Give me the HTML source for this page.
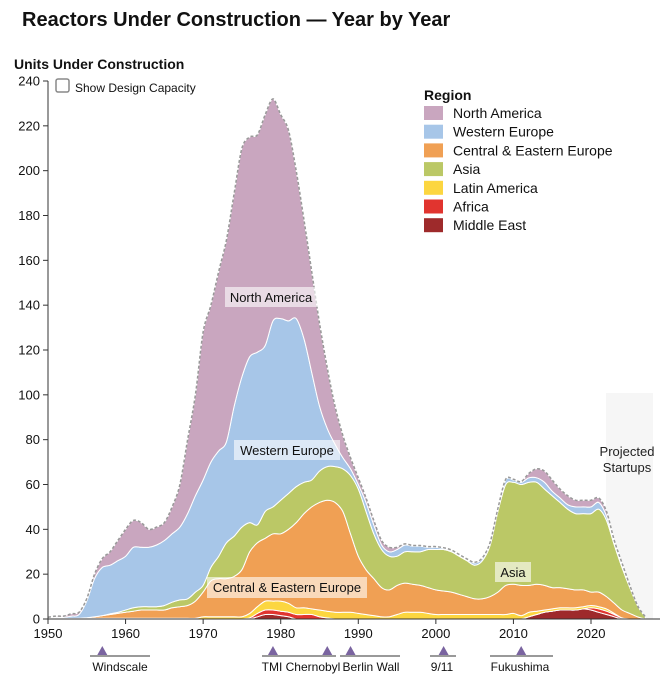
<!DOCTYPE html>
<html><head><meta charset="utf-8"><style>
body{margin:0;background:#fff;font-family:"Liberation Sans",Arial,sans-serif;}
svg{display:block}
</style></head><body>
<svg id="chart" width="667" height="681" viewBox="0 0 667 681" xmlns="http://www.w3.org/2000/svg" font-family="Liberation Sans, Arial, sans-serif">
<text x="22" y="26" font-size="20" font-weight="bold" fill="#111">Reactors Under Construction — Year by Year</text>
<text x="14" y="69" font-size="14" font-weight="bold" fill="#111">Units Under Construction</text>
<rect x="56" y="79" width="13" height="13" rx="2" fill="#fff" stroke="#888" stroke-width="1.5"/>
<text x="75" y="92" font-size="12" fill="#111">Show Design Capacity</text>
<rect x="606" y="393" width="47" height="226" fill="#f6f6f6"/>
<text x="627" y="456" font-size="13" fill="#222" text-anchor="middle">Projected</text>
<text x="627" y="472" font-size="13" fill="#222" text-anchor="middle">Startups</text>
<g id="areas"></g>
<g id="axes"></g>
<g id="labels">
<rect x="225" y="287" width="93" height="20" fill="#fff" opacity="0.6"/>
<text x="271" y="302" font-size="13" fill="#111" text-anchor="middle">North America</text>
<rect x="234" y="440" width="106" height="20" fill="#fff" opacity="0.6"/>
<text x="287" y="455" font-size="13" fill="#111" text-anchor="middle">Western Europe</text>
<rect x="207" y="577" width="160" height="21" fill="#fff" opacity="0.6"/>
<text x="287" y="592" font-size="13" fill="#111" text-anchor="middle">Central &amp; Eastern Europe</text>
<rect x="495" y="562" width="36" height="20" fill="#fff" opacity="0.6"/>
<text x="513" y="577" font-size="13" fill="#111" text-anchor="middle">Asia</text>
</g>
<g id="legend"><text x="424" y="100" font-size="14" font-weight="bold" fill="#111">Region</text></g>
<g id="events"></g>
</svg>
<script>
const years = [];
for (let y = 1950; y <= 2027; y++) years.push(y);
const middleEast = [0,0,0,0,0,0,0,0,0,0,0,0,0,0,0,0,0,0,0,0,0,0,0,0,0,0,0,1,2,2,1.5,1,0,0,0,0,0,0,0,0,0,0,0,0,0,0,0,0,0,0,0,0,0,0,0,0,0,0,0,0,0,0,1,2,3,3.5,4,4,4,4.5,4,3,2,1,0,0,0,0];
const africa = [0,0,0,0,0,0,0,0,0,0,0,0,0,0,0,0,0,0,0,0,0,0,0,0,0,0,0.5,1.5,2,2,2,2,2,2,2,1,0.5,0,0,0,0,0,0,0,0,0,0,0,0,0,0,0,0,0,0,0,0,0,0,0,0,0,0,0,0,0,0,0,0,0,1,1.5,1.5,1,0.5,0,0,0];
const latinAmerica = [0.3,0.3,0.3,0.3,0.3,0.3,0.3,0.3,0.3,0.3,0.3,0.3,0.3,0.3,0.3,0.3,0.3,0.3,0.3,0.3,1,1,1,1,1,1,2,3,4,4,4.5,4,3,3,2.5,3,3,3,3,3,2.5,2,1.5,1,1,2,3,3,3,2.5,2,2,2,2,2,2,2,2,2,2,2.5,1.5,2,1.5,1,1,1,1,1,1,1,1,1,0.5,0,0,0,0];
const centralEasternEurope = [0,0,0,0,0,0.3,0.7,1.2,1.7,2.2,2.7,3.2,3.7,3.7,3.7,3.7,4.7,5.2,5.7,7.7,11,16,17,17,18,21,27.5,28.5,28,30,30,33,38,42,45.5,48,49.5,49,45,35,25.5,20,16.5,13,12,13,13,12.5,12,11.5,11,10.5,10,9,8,7,7,8,10,13,13,13.5,12,12,11,9.5,9,8.5,8,7.5,6,6.5,5.5,4.5,3.5,2.5,1,0];
const asia = [0,0,0,0,0,0,0,0,0.3,0.5,1,1.5,1.5,1.5,1.5,2,2.5,3,3,4,3,6,10,16,18,19,13,8,12,12,15,16,16,14,12,14,15,16,19,26,30,26,20,17,15,13,14,14.5,15,17,18,18.5,18,17,16,15,17,23,36,45,45.5,45,46,45.5,43,41,38,35.5,34,34,35,37,34,26,19,11.5,5,1];
const westernEurope = [0.3,0.5,0.5,1,1.7,7.5,17,21.5,21.7,23,24,27,26.5,26.5,27.5,29,30.5,32.5,38,43,47,47,47,45,58,67,74,77,74,83,81,77,75,64,48,29,17,10,5,3,2,4,4,2,2,3,3,2.5,2.5,1,1,0.5,0.5,0.5,0.5,1,1,1,1,2,1,1,2,2,3,2,2,2,3,3,3,3,2,1,1,0.5,0,0];
const northAmerica = [0.2,0.5,0.5,1,1,1,2,4,6,9,12,12,11,8,8,8,12,19,33,45,66,70,80,90,95,102,98,97,103,99,91,85,66,53,45,37,27,17,10,5,3,2,2,2,2,1,0.5,0.3,0.3,0.3,0.3,0.3,0.3,0.3,0.3,0.3,0.3,0.3,0.3,0.3,0.3,0.3,2,4,5,5,4,4,3,3,3,2,2,1,1,0.5,0,0];
const seriesNames = ["Middle East","Africa","Latin America","Central & Eastern Europe","Asia","Western Europe","North America"];
const seriesColors = ["#9e2a2b","#e1342f","#fcd640","#f0a054","#bbc866","#a7c6e8","#c9a6bf"];
const legendOrder = [6,5,3,4,2,1,0];
const yTicks = [0,20,40,60,80,100,120,140,160,180,200,220,240];
const xTicks = [1950,1960,1970,1980,1990,2000,2010,2020];
const eventNames = ["Windscale","TMI","Chernobyl","Berlin Wall","9/11","Fukushima"];
const eventYears = [1957,1979,1986,1989,2001,2011];

const NS = "http://www.w3.org/2000/svg";
const X0 = 48, X1 = 591, Y0 = 619, Y1 = 81;
function xs(y){ return X0 + (y - 1950) * (X1 - X0) / 70; }
function ys(v){ return Y0 - v * (Y0 - Y1) / 240; }
function mk(tag, attrs, parent){ const e = document.createElementNS(NS, tag); for (const k in attrs) e.setAttribute(k, attrs[k]); parent.appendChild(e); return e; }
function smooth(pts){
  let d = "";
  for (let i = 0; i < pts.length - 1; i++) {
    const p0 = pts[Math.max(i-1,0)], p1 = pts[i], p2 = pts[i+1], p3 = pts[Math.min(i+2,pts.length-1)];
    const t = 0.16;
    const c1x = p1[0] + (p2[0]-p0[0])*t, c1y = p1[1] + (p2[1]-p0[1])*t;
    const c2x = p2[0] - (p3[0]-p1[0])*t, c2y = p2[1] - (p3[1]-p1[1])*t;
    d += ` C${c1x.toFixed(1)},${c1y.toFixed(1)} ${c2x.toFixed(1)},${c2y.toFixed(1)} ${p2[0].toFixed(1)},${p2[1].toFixed(1)}`;
  }
  return d;
}
const series = [middleEast, africa, latinAmerica, centralEasternEurope, asia, westernEurope, northAmerica];
const areas = document.getElementById("areas");
let base = years.map(() => 0);
series.forEach((s, si) => {
  const top = base.map((b, i) => b + s[i]);
  const upper = years.map((yr, i) => [xs(yr), ys(top[i])]);
  const lower = years.map((yr, i) => [xs(yr), ys(base[i])]).reverse();
  const d = "M" + upper[0][0] + "," + upper[0][1] + smooth(upper) + " L" + lower[0][0] + "," + lower[0][1] + smooth(lower) + " Z";
  const p = mk("path", {d: d, fill: seriesColors[si], stroke: "#fff", "stroke-width": 1}, areas);
  
  
  base = top;
});
const outlinePts = years.map((yr, i) => [xs(yr), ys(base[i])]);
const outline = mk("path", {d: "M" + outlinePts[0][0] + "," + outlinePts[0][1] + smooth(outlinePts), fill: "none", stroke: "#999", "stroke-width": 1.5, "stroke-dasharray": "3,2"}, areas);



const axes = document.getElementById("axes");
const ya = mk("line", {x1: X0, y1: Y1, x2: X0, y2: Y0, stroke: "#333"}, axes);


yTicks.forEach(t => {
  mk("line", {x1: X0-5, x2: X0, y1: ys(t), y2: ys(t), stroke: "#333"}, axes);
  const tx = mk("text", {x: X0-8, y: ys(t)+4.5, "font-size": 13, "text-anchor": "end", fill: "#111"}, axes);
  tx.textContent = t;
  
  
});
const xa = mk("line", {x1: X0, y1: Y0, x2: 660, y2: Y0, stroke: "#333"}, axes);


xTicks.forEach(t => {
  mk("line", {x1: xs(t), x2: xs(t), y1: Y0, y2: Y0+5, stroke: "#333"}, axes);
  const tx = mk("text", {x: xs(t), y: 638, "font-size": 13, "text-anchor": "middle", fill: "#111"}, axes);
  tx.textContent = t;
  
  
});

const legend = document.getElementById("legend");
legendOrder.forEach((si, i) => {
  const yy = 106 + i * 18.7;
  const sw = mk("rect", {x: 424, y: yy, width: 19, height: 14, fill: seriesColors[si]}, legend);
  
  
  const tx = mk("text", {x: 453, y: yy + 12, "font-size": 14, fill: "#111"}, legend);
  tx.textContent = seriesNames[si];
  
  
});

const ev = document.getElementById("events");
const evLines = [[90,150],[262,336],[340,400],[430,456],[490,553]];
evLines.forEach(l => mk("line", {x1: l[0], x2: l[1], y1: 656, y2: 656, stroke: "#333"}, ev));
const labelX = [120, 272, 313, 371, 442, 520];
eventYears.forEach((yr, i) => {
  const cx = xs(yr);
  const tri = mk("path", {d: `M${cx-5},655 L${cx+5},655 L${cx},646 Z`, fill: "#7a64a0"}, ev);
  
  
  const tx = mk("text", {x: labelX[i], y: 671, "font-size": 12, "text-anchor": "middle", fill: "#111"}, ev);
  tx.textContent = eventNames[i];
  
  
});
</script>
</body></html>
